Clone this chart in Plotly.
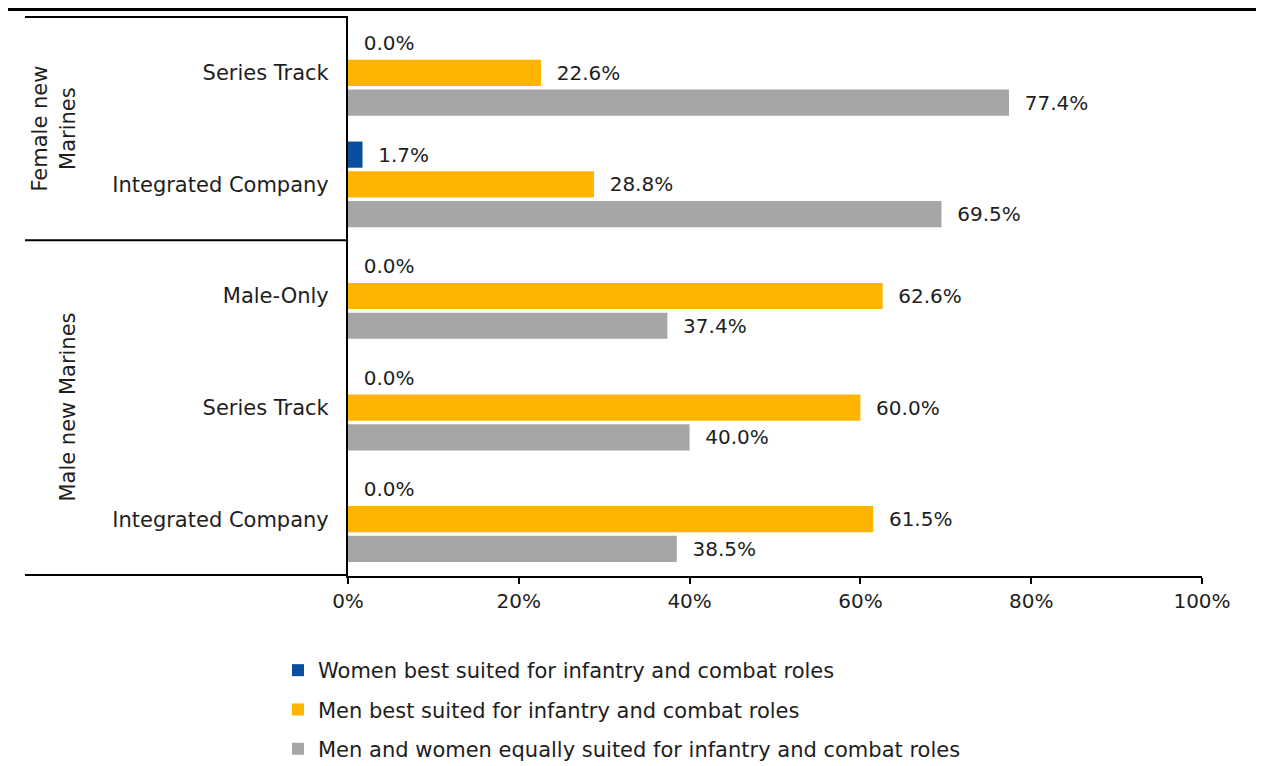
import plotly.graph_objects as go

# ---- data ----
cat_keys = ["F_ST", "F_IC", "M_MO", "M_ST", "M_IC"]
cat_labels = ["Series Track", "Integrated Company", "Male-Only", "Series Track", "Integrated Company"]
group_labels = ["Female new<br>Marines", "Male new Marines"]

series_names = [
    "Women best suited for infantry and combat roles",
    "Men best suited for infantry and combat roles",
    "Men and women equally suited for infantry and combat roles",
]
women_best = [0.0, 1.7, 0.0, 0.0, 0.0]
men_best = [22.6, 28.8, 62.6, 60.0, 61.5]
equal = [77.4, 69.5, 37.4, 40.0, 38.5]
x_ticks = [0, 20, 40, 60, 80, 100]

colors = ["#0A4F9F", "#FFB400", "#A6A6A6"]
FONT = "DejaVu Sans"
TXT = "#1E1E1E"

# page body has an 8px margin: design in reference pixels, shift by OFF
OFF = 8
W, H = 1264 - OFF, 766 - OFF
L, R, T, B = 348 - OFF, 62, 16 - OFF, 190
pw = W - L - R
ph = H - T - B


def px_x(px):
    return (px - OFF - L) / pw


def px_y(py):
    return (H - B - (py - OFF)) / ph


fig = go.Figure()
for i, (name, vals) in enumerate(zip(series_names, [women_best, men_best, equal])):
    fig.add_trace(go.Bar(
        y=cat_keys,
        x=[v / 100 for v in vals],
        name=name,
        orientation="h",
        marker=dict(color=colors[i], line=dict(width=0)),
        text=["\u00a0\u00a0" + f"{v:.1f}%" for v in vals],
        textposition="outside",
        constraintext="none",
        cliponaxis=False,
        textfont=dict(size=20, color=TXT, family=FONT),
        legendgroup=f"g{i}",
        hoverinfo="skip",
    ))

shapes = [
    # top page border
    dict(type="line", xref="paper", yref="paper", x0=px_x(7), x1=px_x(1270),
         y0=px_y(9.5), y1=px_y(9.5), line=dict(color="black", width=3)),
    # label box top
    dict(type="line", xref="paper", yref="y", x0=px_x(25), x1=0,
         y0=-0.5, y1=-0.5, line=dict(color="black", width=2)),
    # group separator
    dict(type="line", xref="paper", yref="y", x0=px_x(25), x1=0,
         y0=1.5, y1=1.5, line=dict(color="black", width=2)),
    # bottom extension
    dict(type="line", xref="paper", yref="y", x0=px_x(25), x1=0,
         y0=4.5, y1=4.5, line=dict(color="black", width=2)),
    # y axis extension below x axis
    dict(type="line", xref="paper", yref="paper", x0=0, x1=0,
         y0=0, y1=px_y(584), line=dict(color="black", width=2)),
]

annotations = [
    dict(text=group_labels[0], xref="paper", yref="y", x=px_x(54), y=0.5,
         textangle=-90, showarrow=False, font=dict(size=21, family=FONT, color=TXT),
         xanchor="center", yanchor="middle"),
    dict(text=group_labels[1], xref="paper", yref="y", x=px_x(68), y=3,
         textangle=-90, showarrow=False, font=dict(size=21, family=FONT, color=TXT),
         xanchor="center", yanchor="middle"),
]

fig.update_layout(
    width=W, height=H,
    margin=dict(l=L, r=R, t=T, b=B, pad=0, autoexpand=False),
    paper_bgcolor="white", plot_bgcolor="white",
    barmode="group", bargap=0.2, bargroupgap=0.12,
    font=dict(family=FONT, size=20, color=TXT),
    showlegend=True,
    legend=dict(
        x=px_x(278), y=px_y(650), xanchor="left", yanchor="top",
        orientation="v", traceorder="grouped", tracegroupgap=9,
        font=dict(size=21, family=FONT, color=TXT),
        itemwidth=30, bgcolor="rgba(0,0,0,0)",
    ),
    shapes=shapes,
    annotations=annotations,
)

fig.update_xaxes(
    range=[0, 1], tickvals=[t / 100 for t in x_ticks],
    ticktext=[f"{t}%" for t in x_ticks],
    showgrid=False, zeroline=False,
    showline=True, linecolor="black", linewidth=2,
    ticks="outside", ticklen=6, tickwidth=1.5, tickcolor="black",
    tickfont=dict(size=20, family=FONT, color=TXT),
)
fig.update_yaxes(
    categoryorder="array", categoryarray=cat_keys,
    tickvals=cat_keys, ticktext=cat_labels,
    autorange="reversed",
    showgrid=False, zeroline=False,
    showline=True, linecolor="black", linewidth=2,
    ticks="", ticklabelstandoff=13,
    tickfont=dict(size=21, family=FONT, color=TXT),
)

fig.write_html("out.html")
